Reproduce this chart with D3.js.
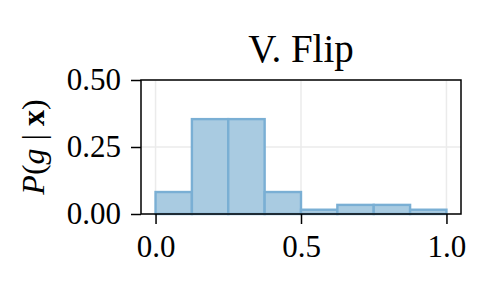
<!DOCTYPE html>
<html>
<head>
<meta charset="utf-8">
<script src="https://cdn.jsdelivr.net/npm/d3@7"></script>
<style>
  body { margin: 0; background: #fff; }
  text { font-family: 'Liberation Serif', 'DejaVu Serif', serif; fill: #000; }
</style>
</head>
<body>
<div id="chart"></div>
<script>
const binStarts = [0, 0.125, 0.25, 0.375, 0.5, 0.625, 0.75, 0.875]
const binWidth = 0.125
const probs = [0.082, 0.354, 0.354, 0.082, 0.016, 0.034, 0.034, 0.016]
const xTicks = [0, 0.5, 1]
const yTicks = [0, 0.25, 0.5]
const title = 'V. Flip'

const width = 500
const height = 300
const margin = { top: 80, right: 39, bottom: 86, left: 141 }
const innerW = width - margin.left - margin.right
const innerH = height - margin.top - margin.bottom

const svg = d3.select('#chart')
  .append('svg')
  .attr('width', width)
  .attr('height', height)

const x = d3.scaleLinear().domain([-0.05, 1.05]).range([0, innerW])
const y = d3.scaleLinear().domain([0, 0.5]).range([innerH, 0])

const g = svg.append('g').attr('transform', `translate(${margin.left},${margin.top})`)

// grid
g.append('g')
  .selectAll('line')
  .data(xTicks)
  .join('line')
  .attr('x1', d => x(d))
  .attr('x2', d => x(d))
  .attr('y1', 0)
  .attr('y2', innerH)
  .attr('stroke', '#ebebeb')
  .attr('stroke-width', 1.5)

g.append('g')
  .selectAll('line')
  .data(yTicks)
  .join('line')
  .attr('x1', 0)
  .attr('x2', innerW)
  .attr('y1', d => y(d))
  .attr('y2', d => y(d))
  .attr('stroke', '#ebebeb')
  .attr('stroke-width', 1.5)

// bars
g.append('g')
  .selectAll('rect')
  .data(probs)
  .join('rect')
  .attr('x', (d, i) => x(binStarts[i]))
  .attr('width', x(binWidth) - x(0))
  .attr('y', d => y(d))
  .attr('height', d => y(0) - y(d))
  .attr('fill', '#a9cbe1')
  .attr('stroke', '#7aafd4')
  .attr('stroke-width', 2.4)

// axes
const xAxis = d3.axisBottom(x).tickValues(xTicks).tickFormat(d3.format('.1f'))
  .tickSizeOuter(0).tickSizeInner(10).tickPadding(11)
const yAxis = d3.axisLeft(y).tickValues(yTicks).tickFormat(d3.format('.2f'))
  .tickSizeOuter(0).tickSizeInner(10).tickPadding(10)

const gx = g.append('g').attr('transform', `translate(0,${innerH})`).call(xAxis)
const gy = g.append('g').call(yAxis)

;[gx, gy].forEach(a => {
  a.attr('font-family', null).attr('font-size', null)
  a.select('.domain').remove()
  a.selectAll('.tick line').attr('stroke', '#000').attr('stroke-width', 1.5)
  a.selectAll('.tick text')
    .style('font-family', "'Liberation Serif', serif")
    .style('font-size', '31px')
    .attr('fill', '#000')
})

// frame
g.append('rect')
  .attr('x', 0)
  .attr('y', 0)
  .attr('width', innerW)
  .attr('height', innerH)
  .attr('fill', 'none')
  .attr('stroke', '#000')
  .attr('stroke-width', 1.5)

// title
svg.append('text')
  .attr('x', margin.left + innerW / 2)
  .attr('y', 62)
  .attr('text-anchor', 'middle')
  .style('font-size', '39px')
  .text(title)

// y label: P(g | x)
const ylab = svg.append('text')
  .attr('transform', `translate(44,${margin.top + innerH / 2}) rotate(-90)`)
  .attr('text-anchor', 'middle')
  .style('font-size', '32px')
ylab.append('tspan').style('font-style', 'italic').text('P')
ylab.append('tspan').text('(')
ylab.append('tspan').style('font-style', 'italic').text('g')
ylab.append('tspan').text(' | ')
ylab.append('tspan').style('font-weight', 'bold').text('x')
ylab.append('tspan').text(')')
</script>
</body>
</html>
